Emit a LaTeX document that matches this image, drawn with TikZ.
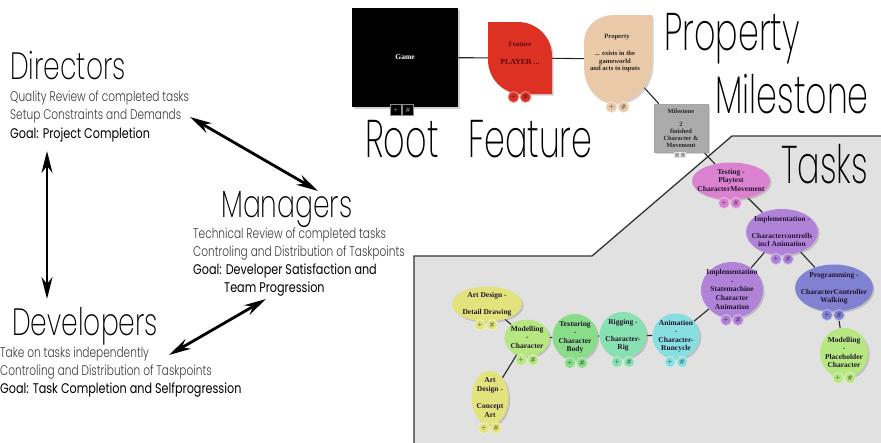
\documentclass[tikz,border=0pt]{standalone}
\usepackage{fontspec}
\setmainfont{Liberation Serif}
\newfontfamily\headfont{Poppins ExtraLight}[FakeStretch=0.7]
\newfontfamily\titlefont{Poppins ExtraLight}[FakeStretch=0.63]
\newfontfamily\linefont{Poppins Light}[FakeStretch=0.755]
\newfontfamily\goalfont{Poppins}[FakeStretch=0.8]
\usetikzlibrary{shapes.geometric,shadows,arrows.meta,backgrounds}

\definecolor{featurered}{HTML}{DD3124}
\definecolor{featureink}{HTML}{5A0A08}
\definecolor{propbeige}{HTML}{E9C9A7}
\definecolor{milegray}{HTML}{ABABAB}
\definecolor{panelgray}{HTML}{E1E1E1}
\definecolor{taskink}{HTML}{22142E}
\definecolor{rolegray}{HTML}{3A3A3A}
\definecolor{testpink}{HTML}{DA82D0}
\definecolor{implpurple}{HTML}{B183D8}
\definecolor{progblue}{HTML}{8181D2}
\definecolor{limegreen}{HTML}{B6E781}
\definecolor{texgreen}{HTML}{89DD89}
\definecolor{rigmint}{HTML}{88E1B1}
\definecolor{animcyan}{HTML}{88DFDF}
\definecolor{artyellow}{HTML}{E3E37D}

% task captions are centred on the ellipse without enlarging it
\newcommand\tasklabel[1]{\makebox[0pt]{\smash{\raisebox{-2pt}{\begin{tabular}{@{}c@{}}#1\end{tabular}}}}}

\tikzset{
  heading/.style={anchor=base west, inner sep=0pt, font=\headfont\fontsize{38}{38}\selectfont},
  bigtitle/.style={anchor=base west, inner sep=0pt, font=\titlefont\fontsize{53}{53}\selectfont},
  roleline/.style={anchor=base west, inner sep=0pt, text=rolegray, font=\linefont\fontsize{14}{14}\selectfont},
  goalline/.style={anchor=base west, inner sep=0pt, text=black, font=\goalfont\fontsize{14}{14}\selectfont},
  relation/.style={line width=2.8pt, {Stealth[length=22pt,width=11pt]}-{Stealth[length=22pt,width=11pt]}},
  softshadow/.style={drop shadow={opacity=0.35, shadow xshift=1.6pt, shadow yshift=-1.6pt}},
  task/.style={ellipse, fill=#1, softshadow, inner sep=0pt, text=taskink,
    font=\bfseries\fontsize{7.5}{8.6}\selectfont},
  link/.style={line width=1.1pt, draw=black!85},
  btn/.style={circle, fill=#1, draw=white!55!#1, line width=0.7pt, minimum size=11pt,
    inner sep=0pt, text=#1!45!black, font=\sffamily\bfseries\fontsize{6}{6}\selectfont},
  minibtn/.style={rectangle, fill=milegray, draw=white!70!milegray, line width=0.4pt,
    minimum size=5pt, inner sep=0pt, text=black!60, font=\sffamily\fontsize{3.5}{3.5}\selectfont},
  gamebtn/.style={rectangle, fill=black, draw=black!45, line width=0.6pt, minimum width=11pt,
    minimum height=11pt, inner sep=0pt, text=white, font=\sffamily\fontsize{5.5}{5.5}\selectfont},
  pics/buttons/.style={code={
    \node[btn=#1] (-plus) at (-6,0) {+};
    \node[btn=#1] (-hash) at (6,0) {\#};}},
}

\begin{document}
\begin{tikzpicture}[x=1pt,y=-1pt]
\useasboundingbox (0,0) rectangle (881,442);

% ---------- roles ----------
\node[heading] (directors) at (10,79) {Directors};
\node[roleline] (dirA) at (10,101) {Quality Review of completed tasks};
\node[roleline] (dirB) at (10,119) {Setup Constraints and Demands};
\node[goalline] (dirC) at (10,138) {Goal: Project Completion};

\node[heading] (managers) at (221,217) {Managers};
\node[roleline] (manA) at (193,238) {Technical Review of completed tasks};
\node[roleline] (manB) at (193,256) {Controling and Distribution of Taskpoints};
\node[goalline] (manC) at (193,274) {Goal: Developer Satisfaction and};
\node[goalline] (manD) at (224,292) {Team Progression};

\node[heading] (developers) at (12,335) {Developers};
\node[roleline] (devA) at (0,357) {Take on tasks independently};
\node[roleline] (devB) at (0,375) {Controling and Distribution of Taskpoints};
\node[goalline] (devC) at (0,393) {Goal: Task Completion and Selfprogression};

\coordinate (dmA) at (190,117);
\coordinate (dmB) at (318,191);
\coordinate (ddA) at (47,151);
\coordinate (ddB) at (47,299);
\coordinate (mdA) at (266,299);
\coordinate (mdB) at (169,355);
\draw[relation] (dmA) -- (dmB);
\draw[relation] (ddA) -- (ddB);
\draw[relation] (mdA) -- (mdB);

% ---------- hierarchy titles ----------
\node[bigtitle] (rootlbl) at (365,157) {Root};
\node[bigtitle] (featurelbl) at (468,157) {Feature};
\node[bigtitle] (propertylbl) at (664,50) {Property};
\node[bigtitle] (milestonelbl) at (715,113) {Milestone};
\node[bigtitle] (taskslbl) at (781,183) {Tasks};

% ---------- root ----------
\node[fill=black, softshadow, minimum width=106pt, minimum height=99pt, inner sep=0pt,
  text=white, font=\bfseries\fontsize{7.5}{9}\selectfont] (game) at (405,57.5) {Game};
\node[gamebtn] (gameplus) at (396,110) {+};
\node[gamebtn] (gamehash) at (408,110) {\#};

% ---------- feature ----------
\fill[featurered, softshadow] (488,22) -- (518,22) .. controls (536.8,22) and (552,37.2) .. (552,56)
  -- (552,94) -- (522,94) .. controls (503.2,94) and (488,78.8) .. (488,60) -- cycle;
\node[minimum width=64pt, minimum height=72pt, inner sep=0pt] (feature) at (520,58) {};
\node[text=featureink, inner sep=0pt, font=\bfseries\fontsize{6.8}{8}\selectfont] (featuretitle) at (520,44) {Feature};
\node[text=featureink, inner sep=0pt, font=\bfseries\fontsize{7.8}{9}\selectfont] (featurename) at (520,62) {PLAYER ...};
\pic (featurebtn) at (519.5,97) {buttons=featurered};

% ---------- property ----------
\fill[propbeige, softshadow] (652,15) -- (652,62) .. controls (652,85) and (636,103) .. (615,103)
  .. controls (597,103) and (584,88) .. (584,66) -- (584,42) .. controls (584,27) and (597,15) .. (614,15) -- cycle;
\node[ellipse, minimum width=68pt, minimum height=88pt, inner sep=0pt] (property) at (618,59) {};
\node[text=black!85, inner sep=0pt, font=\bfseries\fontsize{6.6}{7.5}\selectfont] (proptitle) at (617,37) {Property};
\node[text=black!85, inner sep=0pt, align=center, font=\bfseries\fontsize{6.6}{7.4}\selectfont] (proptext) at (615,61.5)
  {... exists in the\\gameworld\\and acts to inputs};
\pic (propbtn) at (617.5,107) {buttons=propbeige};

% ---------- milestone ----------
\node[rectangle, fill=milegray, draw=black!35, line width=0.5pt, softshadow, minimum width=54pt,
  minimum height=48pt, inner sep=0pt, align=center, text=black!85,
  font=\bfseries\fontsize{6.4}{7}\selectfont] (milestone) at (681,128)
  {Milestone\\[6pt]2\\finished\\Character \&\\Movement};
\node[minibtn] (mileplus) at (677,155) {+};
\node[minibtn] (milehash) at (683,155) {\#};

% ---------- tasks ----------
\node[task=testpink, minimum width=78pt, minimum height=37pt] (testing) at (731,181)
  {\tasklabel{Testing -\\Playtest\\CharacterMovement}};
\node[task=implpurple, minimum width=72pt, minimum height=46pt] (implctrl) at (782,232)
  {\tasklabel{Implementation -\\ \\Charactercontrolls\\incl Animation}};
\node[task=implpurple, minimum width=62pt, minimum height=56pt] (implstate) at (732,290)
  {\tasklabel{Implementation\\-\\Statemachine\\Character\\Animation}};
\node[task=progblue, minimum width=78pt, minimum height=47pt] (programming) at (834,288)
  {\tasklabel{Programming -\\ \\CharacterController\\Walking}};
\node[task=limegreen, minimum width=48pt, minimum height=50pt] (modelph) at (844,353)
  {\tasklabel{Modelling\\-\\Placeholder\\Character}};
\node[task=animcyan, minimum width=47pt, minimum height=45pt] (animation) at (676,336)
  {\tasklabel{Animation\\-\\Character-\\Runcycle}};
\node[task=rigmint, minimum width=47pt, minimum height=46pt] (rigging) at (623,335)
  {\tasklabel{Rigging -\\ \\Character-\\Rig}};
\node[task=texgreen, minimum width=45pt, minimum height=46pt] (texturing) at (575,337)
  {\tasklabel{Texturing\\-\\Character\\Body}};
\node[task=limegreen, minimum width=45pt, minimum height=37pt] (modelchar) at (527,338)
  {\tasklabel{Modelling\\-\\Character}};
\node[task=artyellow, minimum width=70pt, minimum height=35pt] (artdetail) at (487,304)
  {\tasklabel{Art Design -\\ \\Detail Drawing}};
\node[task=artyellow, minimum width=37pt, minimum height=54pt] (artconcept) at (490,398)
  {\tasklabel{Art\\Design -\\ \\Concept\\Art}};

\pic (testingbtn) at (730,203) {buttons=testpink};
\pic (implctrlbtn) at (782,259) {buttons=implpurple};
\pic (implstatebtn) at (732,320) {buttons=implpurple};
\pic (programmingbtn) at (833,315) {buttons=progblue};
\pic (modelphbtn) at (844,378) {buttons=limegreen};
\pic (animationbtn) at (676,362) {buttons=animcyan};
\pic (riggingbtn) at (623,362) {buttons=rigmint};
\pic (texturingbtn) at (576,363) {buttons=texgreen};
\pic (modelcharbtn) at (527,360) {buttons=limegreen};
\pic (artdetailbtn) at (486,325) {buttons=artyellow};
\pic (artconceptbtn) at (490,428) {buttons=artyellow};

% ---------- panel and connectors behind the nodes ----------
\begin{pgfonlayer}{background}
  \fill[panelgray] (414,256) -- (592,256) -- (732,136) -- (882,136) -- (882,443) -- (414,443) -- cycle;
  \draw[black!80, line width=1.3pt] (414,443) -- (414,256) -- (592,256) -- (732,136) -- (882,136);
  \draw[link] (game) -- (feature);
  \draw[link] (feature) -- (property);
  \draw[link] (property) -- (milestone);
  \draw[link] (milestone) -- (testing);
  \draw[link] (testing) -- (implctrl);
  \draw[link] (implctrl) -- (implstate);
  \draw[link] (implctrl) -- (programming);
  \draw[link] (programming) -- (modelph);
  \draw[link] (implstate) -- (animation);
  \draw[link] (animation) -- (rigging);
  \draw[link] (rigging) -- (texturing);
  \draw[link] (texturing) -- (modelchar);
  \draw[link] (modelchar) -- (artdetail);
  \draw[link] (modelchar) -- (artconcept);
\end{pgfonlayer}
\end{tikzpicture}
\end{document}
